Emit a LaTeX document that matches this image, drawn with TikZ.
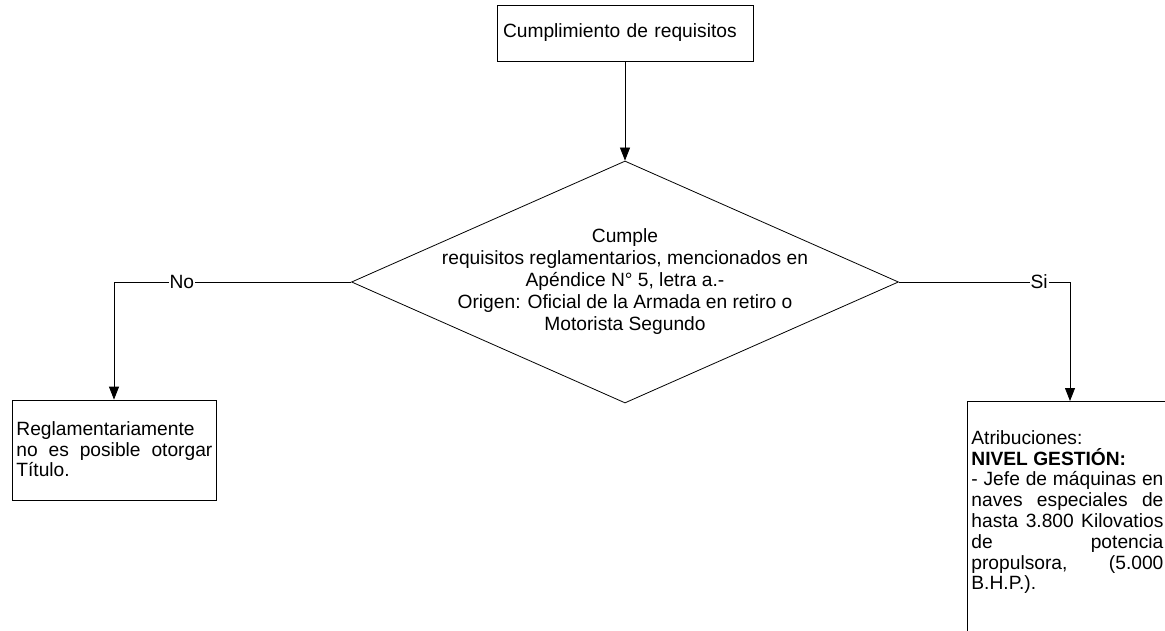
\documentclass[tikz,border=0pt]{standalone}
\usepackage{fontspec}
\setmainfont{Liberation Sans}
\usetikzlibrary{arrows.meta,shapes.geometric}
\begin{document}
\begin{tikzpicture}[x=1pt,y=-1pt,
  line width=0.8pt,
  every node/.style={font=\fontsize{19.2}{22}\selectfont},
  box/.style={draw, rectangle, inner sep=0pt},
  txt/.style={anchor=north west, inner sep=0pt, align=justify,
    font=\fontsize{19.2}{20.8}\selectfont,
    execute at begin node={\hyphenpenalty=10000 \tolerance=10000 \hbadness=10000}},
  arr/.style={-{Triangle[length=13pt,width=10pt]}},
  lbl/.style={fill=white, inner sep=1pt}]
\clip (0,0) rectangle (1165,631);
% top box
\node[box, minimum width=256pt, minimum height=56pt, text width=244pt, align=left,
      inner xsep=6pt] (top) at (625,33) {Cumplimiento de requisitos};
% decision
\node[draw, diamond, minimum width=547pt, minimum height=242pt, inner sep=0pt] (dia) at (625,282) {};
\node[align=center, inner sep=0pt] (dtext) at (dia.center)
  {Cumple\\requisitos reglamentarios, mencionados en\\Apéndice N° 5, letra a.-\\Origen: Oficial de la Armada en retiro o\\Motorista Segundo};
% left result
\node[box, minimum width=204pt, minimum height=100pt] (nobox) at (114,450) {};
\node[txt, text width=196pt] (notext) at (16,421)
  {Reglamentariamente\linebreak no es posible otorgar\linebreak Título.};
% right result
\node[box, minimum width=206pt, minimum height=260pt, anchor=north] (sibox) at (1070,401) {};
\node[txt, text width=192pt] (sitext) at (971,430)
  {Atribuciones:\par\textbf{NIVEL GESTIÓN:}\par - Jefe de máquinas en\linebreak naves especiales de\linebreak hasta 3.800 Kilovatios\linebreak de potencia\linebreak propulsora, (5.000\linebreak B.H.P.).};
% connectors
\draw[arr] (top.south) -- (dia.north);
\draw[arr] (dia.west) -| node[lbl, pos=0.357] (nolbl) {No} (nobox.north);
\draw[arr] (dia.east) -| node[lbl, pos=0.41] (silbl) {Si} (sibox.north);
\end{tikzpicture}
\end{document}
